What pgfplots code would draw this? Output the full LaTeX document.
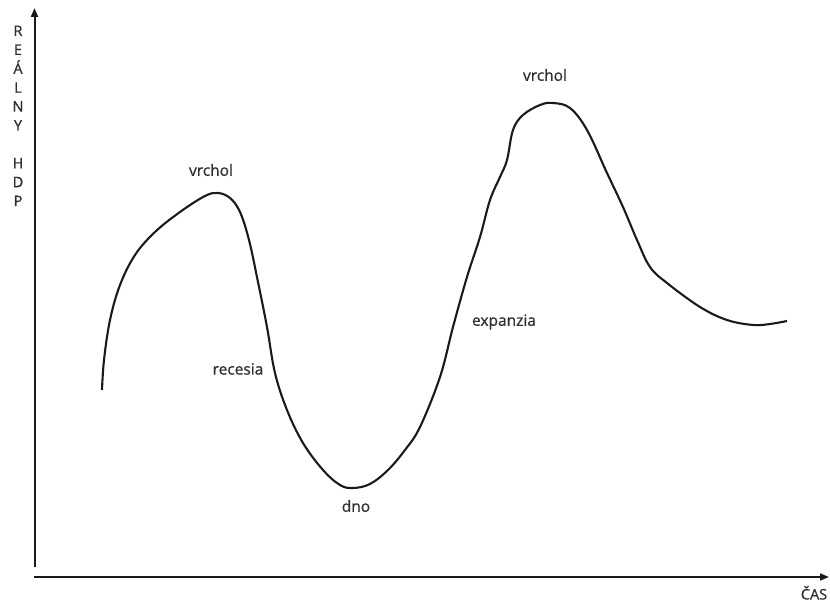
\documentclass[border=0pt]{standalone}
\usepackage{pgfplots}
\pgfplotsset{compat=1.18}
\usepackage{fontspec}
\setmainfont{Open Sans}[FakeBold=0.8]
\newfontfamily\lblfont{Open Sans}[FakeBold=0.8]
\usetikzlibrary{arrows.meta}
\definecolor{ink}{HTML}{1A1A1A}
\definecolor{txt}{HTML}{2E2E2E}
\begin{document}
\begin{tikzpicture}
\begin{axis}[at={(0,0)}, anchor=south west, scale only axis,
  width=830bp, height=604bp, xmin=0, xmax=830, ymin=0, ymax=604,
  hide axis, clip=false]
% axes
\draw[ink, line width=2bp, -{Triangle[length=9bp,width=7bp]}] (axis cs:34.5,37) -- (axis cs:34.5,596);
\draw[ink, line width=2bp, -{Triangle[length=9bp,width=7bp]}] (axis cs:34,27) -- (axis cs:829,27);
% curve
\addplot[ink, line width=2.1bp, smooth, tension=0.6] coordinates {
(102,214) (104,244) (110,284) (120,319) (135,349) (155,372) (180,392)
(205,408) (218,411) (230,406) (240,392) (249,364) (258,322) (267,277)
(275,231) (287,194) (303,161) (323,134) (340,119) (353,116) (370,120)
(388,134) (405,154) (420,177) (440,227) (453,277) (467,327) (480,367)
(490,404) (500,427) (507,444) (513,474) (523,489) (540,499) (553,501)
(570,496) (587,474) (607,431) (623,397) (637,364) (650,337) (667,321)
(700,297) (727,284) (753,279) (770,280) (787,283)
};
% labels
\begin{scope}[every node/.style={font=\lblfont\fontsize{15.5bp}{18bp}\selectfont, text=txt, inner sep=0pt}]
\node at (axis cs:211,434) {vrchol};
\node at (axis cs:545,529) {vrchol};
\node at (axis cs:238,235) {recesia};
\node at (axis cs:356,98) {dno};
\node at (axis cs:504,282) {expanzia};
\end{scope}
\begin{scope}[every node/.style={font=\lblfont\fontsize{14.5bp}{17bp}\selectfont, text=txt, inner sep=0pt, anchor=base}]
\node at (axis cs:18,568) {R};
\node at (axis cs:18,549.1) {E};
\node at (axis cs:18,530.2) {Á};
\node at (axis cs:18,511.3) {L};
\node at (axis cs:18,492.4) {N};
\node at (axis cs:18,473.5) {Y};
\node at (axis cs:18,435.7) {H};
\node at (axis cs:18,416.8) {D};
\node at (axis cs:18,397.9) {P};
\node at (axis cs:814,4.5) {ČAS};
\end{scope}
\end{axis}
\pgfresetboundingbox
\path (0,0) rectangle (830bp,604bp);
\end{tikzpicture}
\end{document}
